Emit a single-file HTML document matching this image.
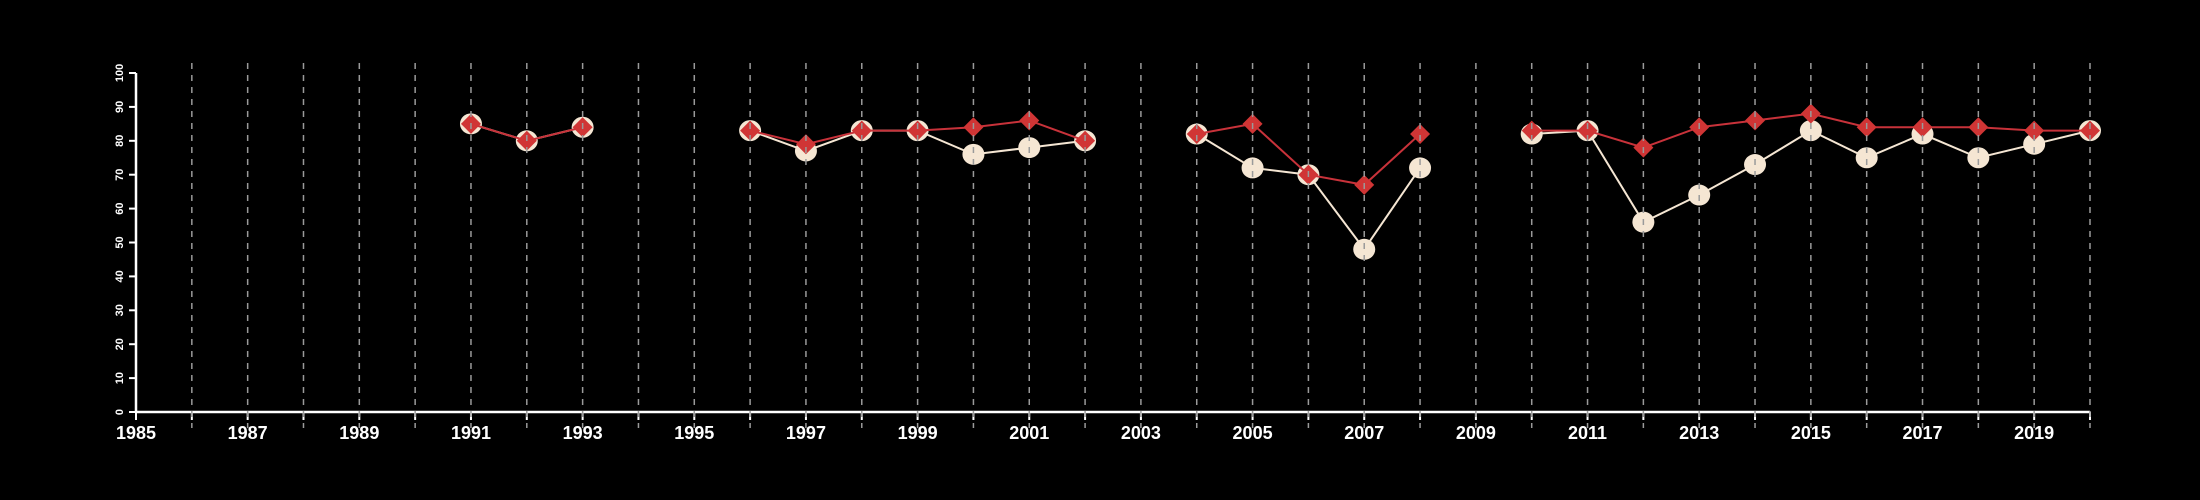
<!DOCTYPE html>
<html><head><meta charset="utf-8"><style>
html,body{margin:0;padding:0;background:#000;}
svg{display:block;}
text{font-family:"Liberation Sans",sans-serif;fill:#fff;}
</style></head><body>
<svg id="chart" width="2200" height="500" viewBox="0 0 2200 500"></svg>
<script>
const years = [1991,1992,1993,1994,1995,1996,1997,1998,1999,2000,2001,2002,2003,2004,2005,2006,2007,2008,2009,2010,2011,2012,2013,2014,2015,2016,2017,2018,2019,2020];
const redValues = [85,80,84,null,null,83,79,83,83,84,86,80,null,82,85,70,67,82,null,83,83,78,84,86,88,84,84,84,83,83];
const creamValues = [85,80,84,null,null,83,77,83,83,76,78,80,null,82,72,70,48,72,null,82,83,56,64,73,83,75,82,75,79,83];
const yTicks = [0,10,20,30,40,50,60,70,80,90,100];
const xLabels = [1985,1987,1989,1991,1993,1995,1997,1999,2001,2003,2005,2007,2009,2011,2013,2015,2017,2019];

const NS='http://www.w3.org/2000/svg';
const svg=document.getElementById('chart');
const x0=136,x1=2090,yB=412,yT=73,xMin=1985,xMax=2020;
const X=v=>x0+(v-xMin)/(xMax-xMin)*(x1-x0);
const Y=v=>yB-v/100*(yB-yT);
function mk(t,a,p){const e=document.createElementNS(NS,t);for(const k in a)e.setAttribute(k,a[k]);(p||svg).appendChild(e);return e;}

// axes
const ax=mk('g',{});


const xa=mk('line',{x1:x0,x2:x1,y1:yB,y2:yB,stroke:'#fff','stroke-width':2.5},ax);


const ya=mk('line',{x1:x0,x2:x0,y1:yT,y2:yB,stroke:'#fff','stroke-width':2.5},ax);


yTicks.forEach(t=>{
  const l=mk('line',{x1:x0-7,x2:x0,y1:Y(t),y2:Y(t),stroke:'#fff','stroke-width':2},ax);
  
  
  const tx=mk('text',{x:0,y:0,'font-size':11,'font-weight':'bold','text-anchor':'middle',transform:`translate(${x0-16},${Y(t)}) rotate(-90)`,'dominant-baseline':'central'},ax);
  tx.textContent=t;
  
  
});
for(let yr=xMin;yr<=xMax;yr++){
  const l=mk('line',{x1:X(yr),x2:X(yr),y1:yB,y2:yB+8,stroke:'#fff','stroke-width':2},ax);
  
  
}
xLabels.forEach(yr=>{
  const tx=mk('text',{x:X(yr),y:439,'font-size':18,'font-weight':'bold','text-anchor':'middle'},ax);
  tx.textContent=yr;
  
  
});

function series(vals,color,name){
  const g=mk('g',{});
  
  
  let seg=[];
  const flush=()=>{if(seg.length>1){const p=mk('polyline',{points:seg.join(' '),fill:'none',stroke:color,'stroke-width':2},g);}seg=[];};
  vals.forEach((v,i)=>{if(v==null){flush();return;}seg.push(X(years[i])+','+Y(v));});
  flush();
  return g;
}
const cg=series(creamValues,'#f5e6d3','cream');
creamValues.forEach((v,i)=>{if(v==null)return;
  const c=mk('ellipse',{cx:X(years[i]),cy:Y(v),rx:11,ry:10.5,fill:'#f5e6d3'},cg);
  
  
});
const rg=series(redValues,'#c8323a','red');
redValues.forEach((v,i)=>{if(v==null)return;
  const cx=X(years[i]),cy=Y(v),r=10;
  const d=mk('polygon',{points:`${cx},${cy-r} ${cx+r},${cy} ${cx},${cy+r} ${cx-r},${cy}`,fill:'#d03535'},rg);
  
  
});
// grid lines on top
const gg=mk('g',{});


for(let yr=xMin+1;yr<=xMax;yr++){
  const l=mk('line',{x1:X(yr),x2:X(yr),y1:63,y2:428,stroke:'#9a9a9a','stroke-width':1.5,'stroke-dasharray':'6,6'},gg);
  
  
}
</script>
</body></html>
